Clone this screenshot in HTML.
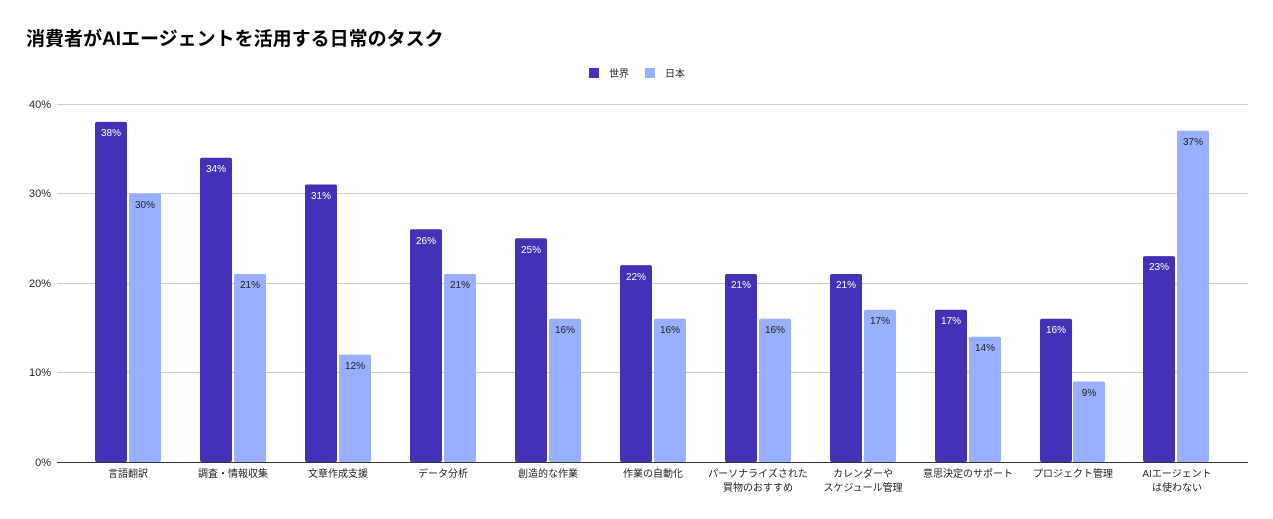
<!DOCTYPE html>
<html><head><meta charset="utf-8"><style>
body{margin:0;background:#fff;}
svg{display:block;font-family:"Liberation Sans","Noto Sans CJK JP",sans-serif;}
</style></head><body>
<svg width="1273" height="519" viewBox="0 0 1273 519">
<text x="26" y="45" font-size="19" font-weight="bold" fill="#000">消費者がAIエージェントを活用する日常のタスク</text>
<rect x="589" y="68" width="10" height="10" fill="#4332b8"/>
<text x="609" y="77" font-size="10" fill="#222">世界</text>
<rect x="645" y="68" width="10" height="10" fill="#98aeff"/>
<text x="665" y="77" font-size="10" fill="#222">日本</text>
<g stroke="#ccc" stroke-width="1">
<line x1="57" x2="1248" y1="104.5" y2="104.5"/>
<line x1="57" x2="1248" y1="193.5" y2="193.5"/>
<line x1="57" x2="1248" y1="283.5" y2="283.5"/>
<line x1="57" x2="1248" y1="372.5" y2="372.5"/>
</g>
<g font-size="11" fill="#222" text-anchor="end">
<text x="51" y="108">40%</text><text x="51" y="197">30%</text><text x="51" y="287">20%</text><text x="51" y="376">10%</text><text x="51" y="466">0%</text>
</g>
<g fill="#4332b8">
<rect x="95" y="121.9" width="32" height="340.1" rx="2"/>
<rect x="200" y="157.7" width="32" height="304.3" rx="2"/>
<rect x="305" y="184.5" width="32" height="277.5" rx="2"/>
<rect x="410" y="229.3" width="32" height="232.7" rx="2"/>
<rect x="515" y="238.3" width="32" height="223.7" rx="2"/>
<rect x="620" y="265.1" width="32" height="196.9" rx="2"/>
<rect x="725" y="274" width="32" height="188" rx="2"/>
<rect x="830" y="274" width="32" height="188" rx="2"/>
<rect x="935" y="309.8" width="32" height="152.2" rx="2"/>
<rect x="1040" y="318.8" width="32" height="143.2" rx="2"/>
<rect x="1143" y="256.1" width="32" height="205.9" rx="2"/>
</g>
<g fill="#98aeff">
<rect x="129" y="193.5" width="32" height="268.5" rx="2"/>
<rect x="234" y="274" width="32" height="188" rx="2"/>
<rect x="339" y="354.6" width="32" height="107.4" rx="2"/>
<rect x="444" y="274" width="32" height="188" rx="2"/>
<rect x="549" y="318.8" width="32" height="143.2" rx="2"/>
<rect x="654" y="318.8" width="32" height="143.2" rx="2"/>
<rect x="759" y="318.8" width="32" height="143.2" rx="2"/>
<rect x="864" y="309.8" width="32" height="152.2" rx="2"/>
<rect x="969" y="336.7" width="32" height="125.3" rx="2"/>
<rect x="1073" y="381.5" width="32" height="80.5" rx="2"/>
<rect x="1177" y="130.8" width="32" height="331.2" rx="2"/>
</g>
<line x1="57" x2="1248" y1="462.5" y2="462.5" stroke="#333" stroke-width="1"/>
<g font-size="10" fill="#fff" text-anchor="middle">
<text x="111" y="136">38%</text><text x="216" y="172">34%</text><text x="321" y="199">31%</text><text x="426" y="244">26%</text><text x="531" y="253">25%</text><text x="636" y="280">22%</text><text x="741" y="288">21%</text><text x="846" y="288">21%</text><text x="951" y="324">17%</text><text x="1056" y="333">16%</text><text x="1159" y="270">23%</text>
</g>
<g font-size="10" fill="#222" text-anchor="middle">
<text x="145" y="208">30%</text><text x="250" y="288">21%</text><text x="355" y="369">12%</text><text x="460" y="288">21%</text><text x="565" y="333">16%</text><text x="670" y="333">16%</text><text x="775" y="333">16%</text><text x="880" y="324">17%</text><text x="985" y="351">14%</text><text x="1089" y="396">9%</text><text x="1193" y="145">37%</text>
</g>
<g font-size="10" fill="#222" text-anchor="middle">
<text x="128" y="477">言語翻訳</text>
<text x="233" y="477">調査・情報収集</text>
<text x="338" y="477">文章作成支援</text>
<text x="443" y="477">データ分析</text>
<text x="548" y="477">創造的な作業</text>
<text x="653" y="477">作業の自動化</text>
<text x="758" y="477">パーソナライズされた</text><text x="758" y="491">買物のおすすめ</text>
<text x="863" y="477">カレンダーや</text><text x="863" y="491">スケジュール管理</text>
<text x="968" y="477">意思決定のサポート</text>
<text x="1073" y="477">プロジェクト管理</text>
<text x="1177" y="477">AIエージェント</text><text x="1177" y="491">は使わない</text>
</g>
</svg>
</body></html>
